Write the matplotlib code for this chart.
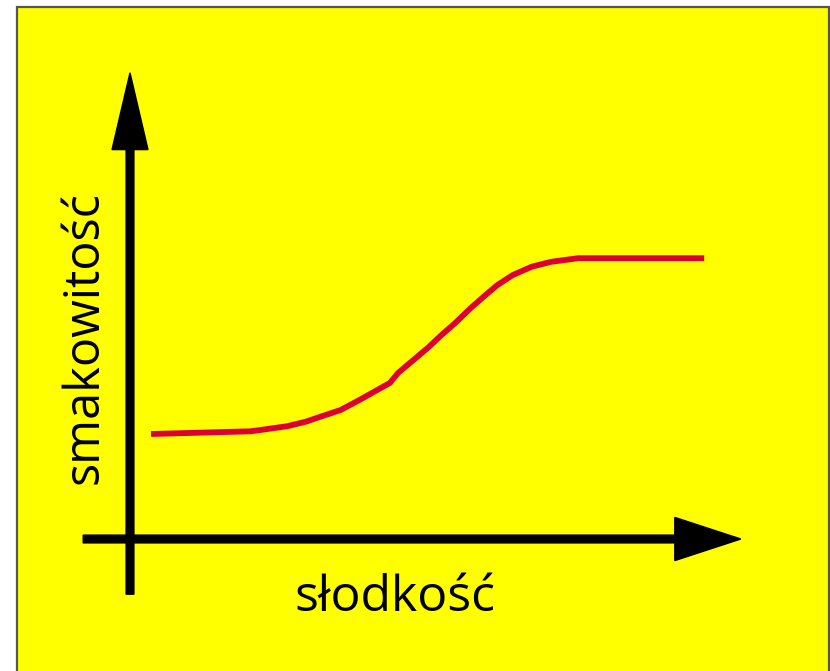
import matplotlib
matplotlib.use("Agg")
import matplotlib.pyplot as plt
from matplotlib.patches import Rectangle

plt.rcParams['font.family'] = ['Open Sans', 'DejaVu Sans']

# slodkosc (sweetness) vs smakowitosc (tastiness), arbitrary units
slodkosc = [0.35, 2.01, 2.27, 2.62, 2.93, 3.18, 3.51, 3.83, 4.15, 4.33, 4.47, 4.72,
            4.98, 5.17, 5.42, 5.68, 5.93, 6.12, 6.38, 6.7, 7.02, 7.47, 9.57]
smakowitosc = [1.75, 1.795, 1.83, 1.88, 1.955, 2.04, 2.15, 2.32, 2.5, 2.6, 2.77, 2.98,
               3.2, 3.38, 3.6, 3.85, 4.07, 4.23, 4.4, 4.54, 4.62, 4.68, 4.68]

x_label = "słodkość"
y_label = "smakowitość"

fig = plt.figure(figsize=(8.3, 6.71), dpi=100)
ax = fig.add_axes([0, 0, 1, 1])
# 60 px per unit both ways, origin at pixel (130, 539)
ax.set_xlim(-130 / 60, 700 / 60)
ax.set_ylim(-132 / 60, 539 / 60)
ax.axis("off")

# yellow board with grey frame
ax.add_patch(Rectangle((17 / 830, -0.05), 812 / 830, 1.05 - 7 / 671,
                       transform=ax.transAxes, facecolor="#ffff00",
                       edgecolor="#555555", lw=1.6, zorder=0))

# axes arrows
ax.arrow(0, -0.92, 0, 7.77 + 0.92, width=0.13, head_width=0.6, head_length=1.28,
         length_includes_head=True, fc="black", ec="black", zorder=2)
ax.arrow(-0.78, 0, 10.18 + 0.78, 0, width=0.13, head_width=0.72, head_length=1.1,
         length_includes_head=True, fc="black", ec="black", zorder=2)

ax.plot(slodkosc, smakowitosc, color="#dc0032", lw=4.2, solid_capstyle="butt",
        solid_joinstyle="round", zorder=3)

ax.text(4.42, -0.98, x_label, fontsize=36, ha="center", va="center", color="black")
ax.text(-0.75, 3.35, y_label, fontsize=35, ha="center", va="center", rotation=90, color="black")

fig.savefig("out.png", dpi=100)
